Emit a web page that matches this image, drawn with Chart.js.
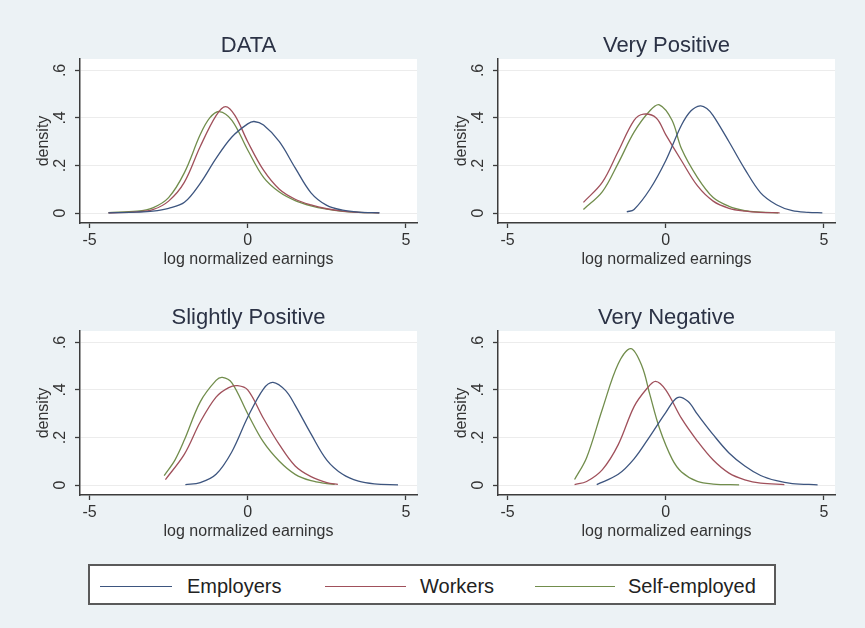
<html>
<head>
<script src="https://cdn.jsdelivr.net/npm/chart.js@4.4.0/dist/chart.umd.min.js"></script>
<style>
    body { margin: 0; width: 865px; height: 628px; background: #ecf2f5; position: relative; overflow: hidden; font-family: "Liberation Sans", Arial, sans-serif; }
    canvas { position: absolute; }
    #legend { position: absolute; left: 88px; top: 564px; width: 684px; height: 37px; border: 2px solid #5a5a5a; background: #fff; }
    .key { position: absolute; height: 0; border-top: 1.5px solid; top: 586px; }
    .lbl { position: absolute; top: 574px; font-size: 20px; line-height: 24px; color: #222; }
</style>
</head>
<body>
<canvas id="p1" width="417" height="259" style="left:10px;top:14px"></canvas>
<canvas id="p2" width="417" height="259" style="left:428px;top:14px"></canvas>
<canvas id="p3" width="417" height="259" style="left:10px;top:286px"></canvas>
<canvas id="p4" width="417" height="259" style="left:428px;top:286px"></canvas>

<div id="legend"></div>
<div class="key" style="left:100px;width:72px;border-color:#3d557f"></div>
<div class="lbl" style="left:187px">Employers</div>
<div class="key" style="left:325px;width:81px;border-color:#a0505b"></div>
<div class="lbl" style="left:420px">Workers</div>
<div class="key" style="left:535px;width:80px;border-color:#718d4c"></div>
<div class="lbl" style="left:628px">Self-employed</div>

<script>
// axes
const xMin = -5.3, xMax = 5.35
const yMin = -0.042, yMax = 0.648
const xTicks = [-5, 0, 5]
const xTickLabels = ['-5', '0', '5']
const yTicks = [0, 0.2, 0.4, 0.6]
const yTickLabels = ['0', '.2', '.4', '.6']
const seriesNames = ['Employers', 'Workers', 'Self-employed']
const seriesColors = ['#3d557f', '#a0505b', '#718d4c']

// DATA
const dataEmpX = [-4.4, -3.5, -3.0, -2.5, -2.0, -1.5, -1.0, -0.5, 0.0, 0.2, 0.5, 1.0, 1.5, 2.0, 2.5, 3.0, 3.5, 4.17]
const dataEmpY = [0.001, 0.004, 0.008, 0.02, 0.045, 0.125, 0.23, 0.32, 0.375, 0.385, 0.37, 0.30, 0.19, 0.085, 0.032, 0.012, 0.004, 0.001]
const dataWrkX = [-4.4, -3.5, -3.0, -2.5, -2.0, -1.5, -1.0, -0.7, -0.4, 0.0, 0.5, 1.0, 1.5, 2.0, 2.5, 3.0, 3.5, 4.15]
const dataWrkY = [0.001, 0.005, 0.014, 0.05, 0.13, 0.28, 0.41, 0.448, 0.41, 0.30, 0.18, 0.10, 0.058, 0.034, 0.018, 0.008, 0.003, 0.001]
const dataSelfX = [-4.4, -3.5, -3.0, -2.5, -2.0, -1.5, -1.2, -0.9, -0.5, 0.0, 0.5, 1.0, 1.5, 2.0, 2.5, 3.0, 3.5, 4.15]
const dataSelfY = [0.002, 0.008, 0.022, 0.065, 0.17, 0.33, 0.40, 0.427, 0.39, 0.265, 0.15, 0.088, 0.052, 0.03, 0.016, 0.007, 0.003, 0.001]

// Very Positive
const vposEmpX = [-1.23, -1.0, -0.5, 0.0, 0.5, 0.8, 1.09, 1.3, 1.5, 2.0, 2.5, 3.0, 3.5, 4.0, 4.5, 4.95]
const vposEmpY = [0.005, 0.015, 0.1, 0.22, 0.37, 0.43, 0.451, 0.44, 0.41, 0.30, 0.185, 0.085, 0.035, 0.01, 0.003, 0.001]
const vposWrkX = [-2.6, -2.0, -1.5, -1.0, -0.7, -0.3, 0.0, 0.5, 1.0, 1.5, 2.0, 2.5, 3.0, 3.6]
const vposWrkY = [0.045, 0.13, 0.26, 0.39, 0.416, 0.40, 0.33, 0.22, 0.115, 0.05, 0.02, 0.008, 0.003, 0.001]
const vposSelfX = [-2.6, -2.0, -1.5, -1.0, -0.5, -0.2, 0.2, 0.5, 1.0, 1.5, 2.0, 2.5, 3.0, 3.55]
const vposSelfY = [0.015, 0.09, 0.21, 0.34, 0.43, 0.455, 0.39, 0.27, 0.15, 0.065, 0.028, 0.01, 0.004, 0.001]

// Slightly Positive
const sposEmpX = [-1.97, -1.5, -1.0, -0.5, 0.0, 0.5, 0.8, 1.2, 1.5, 2.0, 2.5, 3.0, 3.5, 4.0, 4.75]
const sposEmpY = [0.002, 0.01, 0.045, 0.14, 0.285, 0.405, 0.432, 0.397, 0.335, 0.215, 0.105, 0.045, 0.016, 0.005, 0.001]
const sposWrkX = [-2.6, -2.0, -1.5, -1.0, -0.6, -0.32, 0.0, 0.5, 1.0, 1.5, 2.0, 2.5, 2.85]
const sposWrkY = [0.023, 0.13, 0.265, 0.37, 0.41, 0.418, 0.40, 0.28, 0.17, 0.08, 0.035, 0.01, 0.003]
const sposSelfX = [-2.64, -2.3, -2.0, -1.5, -1.0, -0.8, -0.5, 0.0, 0.5, 1.0, 1.5, 2.0, 2.5, 2.75]
const sposSelfY = [0.04, 0.105, 0.19, 0.35, 0.44, 0.453, 0.43, 0.30, 0.18, 0.10, 0.045, 0.018, 0.006, 0.003]

// Very Negative
const vnegEmpX = [-2.18, -1.5, -1.0, -0.5, 0.0, 0.37, 0.7, 1.0, 1.5, 2.0, 2.5, 3.0, 3.5, 4.0, 4.8]
const vnegEmpY = [0.002, 0.045, 0.11, 0.205, 0.305, 0.368, 0.352, 0.298, 0.212, 0.135, 0.08, 0.04, 0.018, 0.006, 0.001]
const vnegWrkX = [-2.88, -2.5, -2.0, -1.5, -1.0, -0.6, -0.32, 0.0, 0.5, 1.0, 1.5, 2.0, 2.5, 3.0, 3.75]
const vnegWrkY = [0.002, 0.015, 0.065, 0.17, 0.33, 0.405, 0.436, 0.40, 0.28, 0.185, 0.105, 0.05, 0.022, 0.008, 0.002]
const vnegSelfX = [-2.88, -2.5, -2.0, -1.5, -1.1, -0.75, -0.5, -0.2, 0.2, 0.5, 1.0, 1.5, 2.32]
const vnegSelfY = [0.023, 0.115, 0.32, 0.51, 0.574, 0.50, 0.38, 0.24, 0.11, 0.055, 0.015, 0.004, 0.001]

const fontFamily = '"Liberation Sans", Arial, sans-serif'

// white plot region, panel title, rotated y tick labels (stata style)
const stataLook = {
    id: 'stataLook',
    beforeDraw(chart) {
        const { ctx, chartArea: a } = chart
        ctx.save()
        ctx.fillStyle = '#fff'
        ctx.fillRect(a.left, a.top, a.right - a.left, a.bottom - a.top)
        ctx.restore()
    },
    afterDraw(chart, args, opts) {
        const { ctx, chartArea: a, scales } = chart
        ctx.save()
        ctx.fillStyle = '#2b3245'
        ctx.font = '22px ' + fontFamily
        ctx.textAlign = 'center'
        ctx.textBaseline = 'alphabetic'
        ctx.fillText(opts.title, (a.left + a.right) / 2, a.top - 7)
        ctx.fillStyle = '#333'
        ctx.font = '16px ' + fontFamily
        ctx.textBaseline = 'middle'
        yTicks.forEach((v, i) => {
            ctx.save()
            ctx.translate(a.left - 19, scales.y.getPixelForValue(v))
            ctx.rotate(-Math.PI / 2)
            ctx.fillText(yTickLabels[i], 0, 0)
            ctx.restore()
        })
        ctx.restore()
    }
}

function toPoints(xs, ys) {
    return xs.map((x, i) => ({ x: x, y: ys[i] }))
}

function makePanel(id, title, curves) {
    new Chart(document.getElementById(id), {
        type: 'scatter',
        data: {
            datasets: curves.map((c, i) => ({
                label: seriesNames[i],
                data: toPoints(c[0], c[1]),
                showLine: true,
                borderColor: seriesColors[i],
                borderWidth: 1.3,
                pointRadius: 0,
                tension: 0.35
            }))
        },
        options: {
            responsive: false,
            animation: false,
            layout: { padding: { top: 45, right: 10, left: 0, bottom: 0 } },
            plugins: {
                legend: { display: false },
                tooltip: { enabled: false },
                stataLook: { title: title }
            },
            scales: {
                x: {
                    type: 'linear',
                    min: xMin,
                    max: xMax,
                    afterBuildTicks: s => { s.ticks = xTicks.map(v => ({ value: v })) },
                    afterFit: s => { s.height = 50 },
                    ticks: {
                        color: '#333',
                        padding: 3,
                        maxRotation: 0,
                        font: { size: 16, family: fontFamily },
                        callback: v => xTickLabels[xTicks.indexOf(v)]
                    },
                    grid: { drawOnChartArea: false, drawTicks: true, tickLength: 5, tickColor: '#3c3c3c', tickWidth: 1.3 },
                    border: { color: '#3c3c3c', width: 1.5 },
                    title: { display: true, text: 'log normalized earnings', color: '#333', font: { size: 16, family: fontFamily }, padding: { top: 0, bottom: 4 } }
                },
                y: {
                    type: 'linear',
                    min: yMin,
                    max: yMax,
                    afterBuildTicks: s => { s.ticks = yTicks.map(v => ({ value: v })) },
                    afterFit: s => { s.width = 70 },
                    ticks: { display: false },
                    grid: { color: '#ececec', drawTicks: true, tickLength: 5, tickColor: '#3c3c3c', tickWidth: 1.3 },
                    border: { color: '#3c3c3c', width: 1.5 },
                    title: { display: true, text: 'density', color: '#333', font: { size: 16, family: fontFamily }, padding: { top: 24, bottom: 0 } }
                }
            }
        },
        plugins: [stataLook]
    })
}

makePanel('p1', 'DATA', [[dataEmpX, dataEmpY], [dataWrkX, dataWrkY], [dataSelfX, dataSelfY]])
makePanel('p2', 'Very Positive', [[vposEmpX, vposEmpY], [vposWrkX, vposWrkY], [vposSelfX, vposSelfY]])
makePanel('p3', 'Slightly Positive', [[sposEmpX, sposEmpY], [sposWrkX, sposWrkY], [sposSelfX, sposSelfY]])
makePanel('p4', 'Very Negative', [[vnegEmpX, vnegEmpY], [vnegWrkX, vnegWrkY], [vnegSelfX, vnegSelfY]])
</script>
</body>
</html>
